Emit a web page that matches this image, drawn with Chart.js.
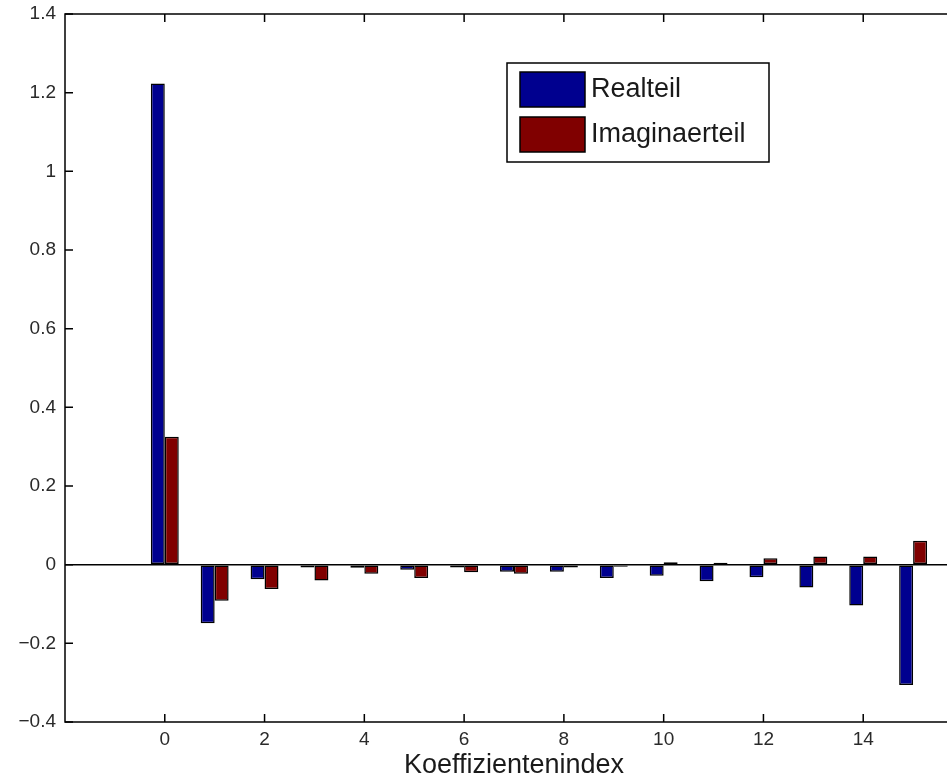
<!DOCTYPE html>
<html>
<head>
<meta charset="utf-8">
<script src="https://cdn.jsdelivr.net/npm/chart.js@4.4.0/dist/chart.umd.min.js"></script>
<style>
  html, body { margin: 0; padding: 0; background: #fff; overflow: hidden; width: 947px; height: 782px; }
  #wrap { position: absolute; left: 0; top: 0; width: 1000px; height: 782px; }
</style>
</head>
<body>
<div id="wrap"><canvas id="c" width="1000" height="782"></canvas></div>
<script>
// ---- data ----
const coefficientIndex = [0, 1, 2, 3, 4, 5, 6, 7, 8, 9, 10, 11, 12, 13, 14, 15];
const realteil = [1.223, -0.149, -0.037, -0.007, -0.008, -0.013, -0.007, -0.018, -0.018, -0.034, -0.028, -0.042, -0.032, -0.058, -0.104, -0.306];
const imaginaerteil = [0.325, -0.092, -0.062, -0.040, -0.023, -0.034, -0.019, -0.023, -0.007, -0.005, 0.006, 0.005, 0.016, 0.021, 0.021, 0.061];
const seriesNames = ['Realteil', 'Imaginaerteil'];
const xTickValues = [0, 2, 4, 6, 8, 10, 12, 14];
const yTickValues = [-0.4, -0.2, 0, 0.2, 0.4, 0.6, 0.8, 1, 1.2, 1.4];
const xAxisTitle = 'Koeffizientenindex';

const FONT = '"Liberation Sans", Arial, Helvetica, sans-serif';

const toPoints = (vals) => vals.map((v, i) => ({ x: coefficientIndex[i], y: v }));

const framePlugin = {
  id: 'frame',
  afterDatasetsDraw(chart) {
    const { ctx, chartArea: a, scales } = chart;
    ctx.save();
    ctx.strokeStyle = '#000';
    ctx.lineWidth = 1.5;
    ctx.beginPath();
    ctx.rect(a.left, a.top, a.right - a.left, a.bottom - a.top);
    ctx.stroke();
    const tl = 8;
    ctx.beginPath();
    scales.x.ticks.forEach(t => {
      const px = scales.x.getPixelForValue(t.value);
      ctx.moveTo(px, a.bottom); ctx.lineTo(px, a.bottom - tl);
      ctx.moveTo(px, a.top); ctx.lineTo(px, a.top + tl);
    });
    scales.y.ticks.forEach(t => {
      const py = scales.y.getPixelForValue(t.value);
      ctx.moveTo(a.left, py); ctx.lineTo(a.left + tl, py);
      ctx.moveTo(a.right, py); ctx.lineTo(a.right - tl, py);
    });
    ctx.stroke();
    ctx.restore();
  }
};

const legendPlugin = {
  id: 'boxLegend',
  afterDraw(chart) {
    const { ctx } = chart;
    const bx = 507, by = 63, bw = 262, bh = 99;
    ctx.save();
    ctx.fillStyle = '#fff';
    ctx.fillRect(bx, by, bw, bh);
    ctx.strokeStyle = '#000';
    ctx.lineWidth = 1.5;
    ctx.strokeRect(bx, by, bw, bh);
    ctx.font = '27px ' + FONT;
    ctx.textBaseline = 'middle';
    ctx.textAlign = 'left';
    chart.data.datasets.forEach((ds, i) => {
      const sy = 72 + i * 45;
      ctx.fillStyle = ds.backgroundColor;
      ctx.fillRect(520, sy, 65, 35);
      ctx.lineWidth = 1.5;
      ctx.strokeStyle = '#000';
      ctx.strokeRect(520, sy, 65, 35);
      ctx.fillStyle = '#1a1a1a';
      ctx.fillText(ds.label, 591, sy + 18);
    });
    ctx.restore();
  }
};

const fmt = (v) => {
  const r = Math.round(v * 10) / 10;
  const s = String(Math.abs(r));
  return r < 0 ? '\u2212' + s : s;
};

new Chart(document.getElementById('c'), {
  type: 'bar',
  data: {
    datasets: [
      { label: seriesNames[0], data: toPoints(realteil), backgroundColor: '#00008F', borderColor: '#000', borderWidth: 1.5, borderSkipped: false },
      { label: seriesNames[1], data: toPoints(imaginaerteil), backgroundColor: '#800000', borderColor: '#000', borderWidth: 1.5, borderSkipped: false }
    ]
  },
  options: {
    responsive: false,
    animation: false,
    categoryPercentage: 0.56,
    barPercentage: 1,
    layout: { padding: { top: 14, right: 37, left: 0, bottom: 0 } },
    plugins: { legend: { display: false }, tooltip: { enabled: false } },
    scales: {
      x: {
        type: 'linear',
        min: -2, max: 16,
        offset: false,
        afterBuildTicks: (s) => { s.ticks = xTickValues.map(v => ({ value: v })); },
        afterFit: (s) => { s.height = 60; s.paddingLeft = 0; s.paddingRight = 0; },
        grid: { display: false, drawTicks: false },
        border: { display: false },
        ticks: { font: { family: FONT, size: 19 }, color: '#2a2a2a', padding: 6, maxRotation: 0, autoSkip: false, callback: (v) => String(v) },
        title: { display: true, text: xAxisTitle, font: { family: FONT, size: 27 }, color: '#1a1a1a', padding: { top: 0, bottom: 0 } }
      },
      y: {
        min: -0.4, max: 1.4,
        afterBuildTicks: (s) => { s.ticks = yTickValues.map(v => ({ value: v })); },
        afterFit: (s) => { s.width = 65; s.paddingTop = 0; s.paddingBottom = 0; },
        grid: {
          drawTicks: false,
          color: (c) => (c.tick && Math.abs(c.tick.value) < 1e-9) ? '#000' : 'rgba(0,0,0,0)',
          lineWidth: 1.5
        },
        border: { display: false },
        ticks: { font: { family: FONT, size: 19 }, color: '#2a2a2a', padding: 9, callback: (v) => fmt(v) }
      }
    }
  },
  plugins: [framePlugin, legendPlugin]
});
</script>
</body>
</html>
